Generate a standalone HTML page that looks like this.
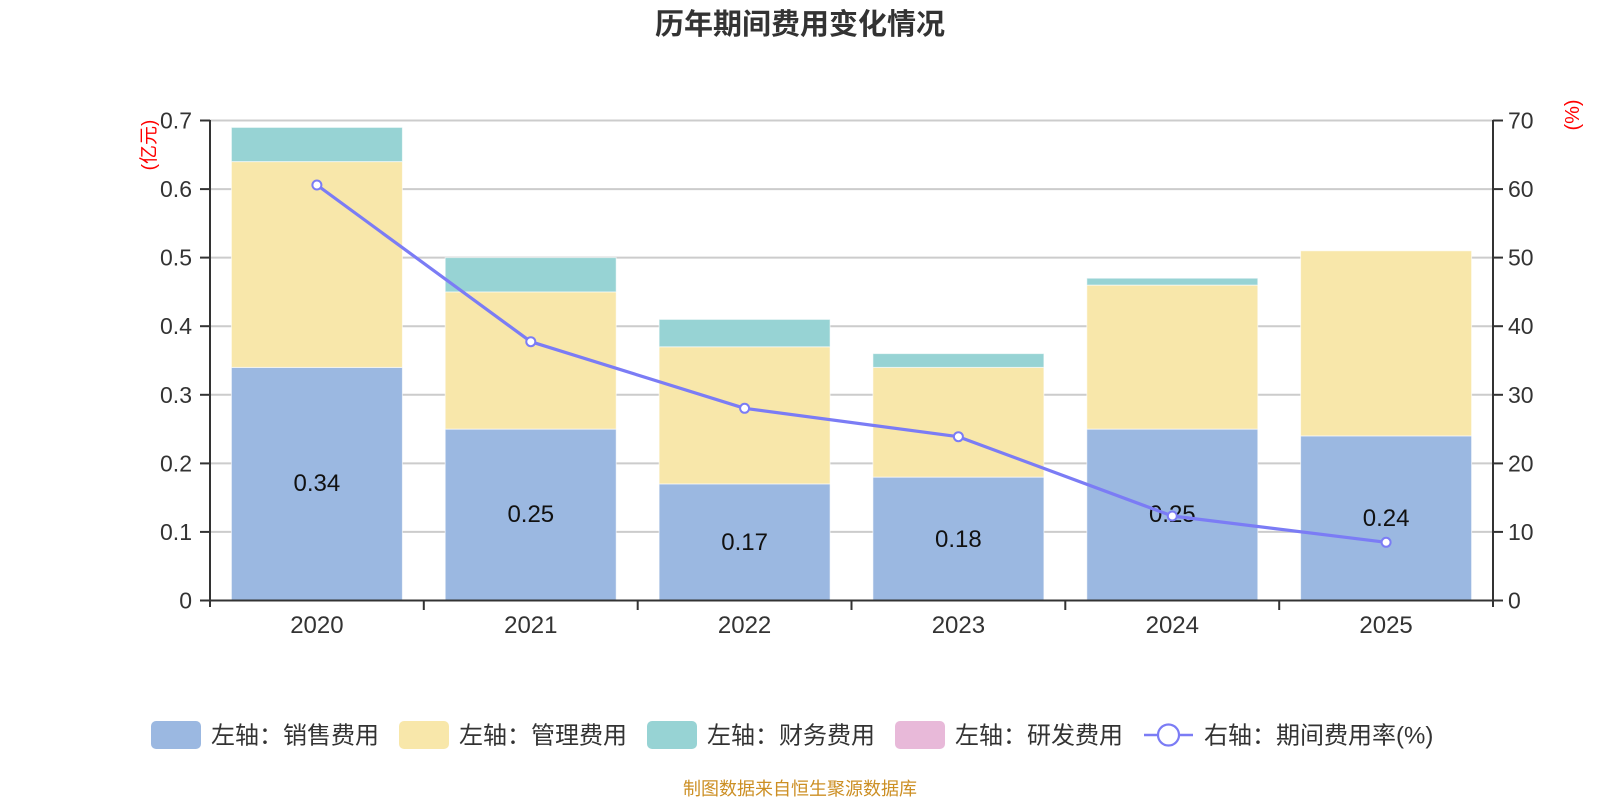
<!DOCTYPE html>
<html>
<head>
<meta charset="utf-8">
<style>
  html,body{margin:0;padding:0;background:#fff;}
  svg{display:block;}
  text{font-family:"Liberation Sans","Noto Sans CJK SC",sans-serif;}
</style>
</head>
<body>
<svg width="1600" height="800" viewBox="0 0 1600 800" xmlns="http://www.w3.org/2000/svg">
  <!-- Title -->
  <text x="800" y="34" text-anchor="middle" font-size="29" font-weight="bold" fill="#333">历年期间费用变化情况</text>

  <!-- Grid lines -->
  <g stroke="#cccccc" stroke-width="2">
    <line x1="210" y1="120.5" x2="1493" y2="120.5"/>
    <line x1="210" y1="189.1" x2="1493" y2="189.1"/>
    <line x1="210" y1="257.6" x2="1493" y2="257.6"/>
    <line x1="210" y1="326.2" x2="1493" y2="326.2"/>
    <line x1="210" y1="394.8" x2="1493" y2="394.8"/>
    <line x1="210" y1="463.4" x2="1493" y2="463.4"/>
    <line x1="210" y1="531.9" x2="1493" y2="531.9"/>
  </g>

  <!-- Bars -->
  <g stroke="#ffffff" stroke-width="1" stroke-opacity="0.6">
    <!-- 2020 -->
    <rect x="231.4" y="367.4" width="171" height="233.1" fill="#9bb8e1"/>
    <rect x="231.4" y="161.6" width="171" height="205.8" fill="#f8e7aa"/>
    <rect x="231.4" y="127.4" width="171" height="34.2" fill="#97d3d4"/>
    <!-- 2021 -->
    <rect x="445.2" y="429.1" width="171" height="171.4" fill="#9bb8e1"/>
    <rect x="445.2" y="291.9" width="171" height="137.2" fill="#f8e7aa"/>
    <rect x="445.2" y="257.6" width="171" height="34.3" fill="#97d3d4"/>
    <!-- 2022 -->
    <rect x="659.1" y="483.9" width="171" height="116.6" fill="#9bb8e1"/>
    <rect x="659.1" y="346.8" width="171" height="137.1" fill="#f8e7aa"/>
    <rect x="659.1" y="319.4" width="171" height="27.4" fill="#97d3d4"/>
    <!-- 2023 -->
    <rect x="872.9" y="477.1" width="171" height="123.4" fill="#9bb8e1"/>
    <rect x="872.9" y="367.4" width="171" height="109.7" fill="#f8e7aa"/>
    <rect x="872.9" y="353.6" width="171" height="13.8" fill="#97d3d4"/>
    <!-- 2024 -->
    <rect x="1086.8" y="429.1" width="171" height="171.4" fill="#9bb8e1"/>
    <rect x="1086.8" y="285.1" width="171" height="144" fill="#f8e7aa"/>
    <rect x="1086.8" y="278.2" width="171" height="6.9" fill="#97d3d4"/>
    <!-- 2025 -->
    <rect x="1300.6" y="435.9" width="171" height="164.6" fill="#9bb8e1"/>
    <rect x="1300.6" y="250.8" width="171" height="185.1" fill="#f8e7aa"/>
  </g>

  <!-- Axes -->
  <g stroke="#333" stroke-width="2">
    <line x1="210" y1="120" x2="210" y2="607"/>
    <line x1="1493" y1="120" x2="1493" y2="607"/>
    <line x1="200" y1="600.5" x2="1503" y2="600.5"/>
    <!-- left ticks -->
    <line x1="200" y1="120.5" x2="210" y2="120.5"/>
    <line x1="200" y1="189.1" x2="210" y2="189.1"/>
    <line x1="200" y1="257.6" x2="210" y2="257.6"/>
    <line x1="200" y1="326.2" x2="210" y2="326.2"/>
    <line x1="200" y1="394.8" x2="210" y2="394.8"/>
    <line x1="200" y1="463.4" x2="210" y2="463.4"/>
    <line x1="200" y1="531.9" x2="210" y2="531.9"/>
    <!-- right ticks -->
    <line x1="1493" y1="120.5" x2="1503" y2="120.5"/>
    <line x1="1493" y1="189.1" x2="1503" y2="189.1"/>
    <line x1="1493" y1="257.6" x2="1503" y2="257.6"/>
    <line x1="1493" y1="326.2" x2="1503" y2="326.2"/>
    <line x1="1493" y1="394.8" x2="1503" y2="394.8"/>
    <line x1="1493" y1="463.4" x2="1503" y2="463.4"/>
    <line x1="1493" y1="531.9" x2="1503" y2="531.9"/>
    <!-- x ticks -->
    <line x1="423.8" y1="600.5" x2="423.8" y2="610"/>
    <line x1="637.7" y1="600.5" x2="637.7" y2="610"/>
    <line x1="851.5" y1="600.5" x2="851.5" y2="610"/>
    <line x1="1065.3" y1="600.5" x2="1065.3" y2="610"/>
    <line x1="1279.2" y1="600.5" x2="1279.2" y2="610"/>
  </g>

  <!-- Left axis labels -->
  <g font-size="23" fill="#333" text-anchor="end">
    <text x="192" y="128.5">0.7</text>
    <text x="192" y="197.1">0.6</text>
    <text x="192" y="265.6">0.5</text>
    <text x="192" y="334.2">0.4</text>
    <text x="192" y="402.8">0.3</text>
    <text x="192" y="471.4">0.2</text>
    <text x="192" y="539.9">0.1</text>
    <text x="192" y="608.5">0</text>
  </g>
  <!-- Right axis labels -->
  <g font-size="23" fill="#333" text-anchor="start">
    <text x="1508" y="128.5">70</text>
    <text x="1508" y="197.1">60</text>
    <text x="1508" y="265.6">50</text>
    <text x="1508" y="334.2">40</text>
    <text x="1508" y="402.8">30</text>
    <text x="1508" y="471.4">20</text>
    <text x="1508" y="539.9">10</text>
    <text x="1508" y="608.5">0</text>
  </g>
  <!-- X labels -->
  <g font-size="24" fill="#333" text-anchor="middle">
    <text x="316.9" y="633">2020</text>
    <text x="530.8" y="633">2021</text>
    <text x="744.6" y="633">2022</text>
    <text x="958.4" y="633">2023</text>
    <text x="1172.3" y="633">2024</text>
    <text x="1386.1" y="633">2025</text>
  </g>

  <!-- Axis unit names -->
  <text transform="translate(155,145) rotate(-90)" font-size="19" fill="#ff0000" text-anchor="middle">(亿元)</text>
  <text transform="translate(1579,115) rotate(-90)" font-size="20" fill="#ff0000" text-anchor="middle">(%)</text>

  <!-- Bar labels -->
  <g font-size="24" fill="#111" text-anchor="middle">
    <text x="316.9" y="491">0.34</text>
    <text x="530.8" y="522">0.25</text>
    <text x="744.6" y="550">0.17</text>
    <text x="958.4" y="547">0.18</text>
    <text x="1172.3" y="522">0.25</text>
    <text x="1386.1" y="526">0.24</text>
  </g>

  <!-- Line series -->
  <polyline points="316.9,185 530.8,341.7 744.6,408.3 958.4,436.7 1172.3,516 1386.1,542.3" fill="none" stroke="#7b7cf5" stroke-width="3.2" stroke-linejoin="round"/>
  <g fill="#fff" stroke="#7b7cf5" stroke-width="2">
    <circle cx="316.9" cy="185" r="4.5"/>
    <circle cx="530.8" cy="341.7" r="4.5"/>
    <circle cx="744.6" cy="408.3" r="4.5"/>
    <circle cx="958.4" cy="436.7" r="4.5"/>
    <circle cx="1172.3" cy="516" r="4.5"/>
    <circle cx="1386.1" cy="542.3" r="4.5"/>
  </g>

  <!-- Legend -->
  <rect x="151" y="721" width="50" height="28" rx="5" fill="#9bb8e1"/>
  <text x="211" y="743.5" font-size="24" fill="#333">左轴：销售费用</text>
  <rect x="399" y="721" width="50" height="28" rx="5" fill="#f8e7aa"/>
  <text x="459" y="743.5" font-size="24" fill="#333">左轴：管理费用</text>
  <rect x="647" y="721" width="50" height="28" rx="5" fill="#97d3d4"/>
  <text x="707" y="743.5" font-size="24" fill="#333">左轴：财务费用</text>
  <rect x="895" y="721" width="50" height="28" rx="5" fill="#e8b9d9"/>
  <text x="955" y="743.5" font-size="24" fill="#333">左轴：研发费用</text>
  <line x1="1144" y1="735" x2="1193" y2="735" stroke="#7b7cf5" stroke-width="2.5"/>
  <circle cx="1168.5" cy="735" r="10.5" fill="#fff" stroke="#7b7cf5" stroke-width="2.2"/>
  <text x="1204" y="743.5" font-size="24" fill="#333">右轴：期间费用率(%)</text>

  <!-- Footer -->
  <text x="800" y="795" font-size="18" fill="#cc8f24" text-anchor="middle">制图数据来自恒生聚源数据库</text>
</svg>
</body>
</html>
